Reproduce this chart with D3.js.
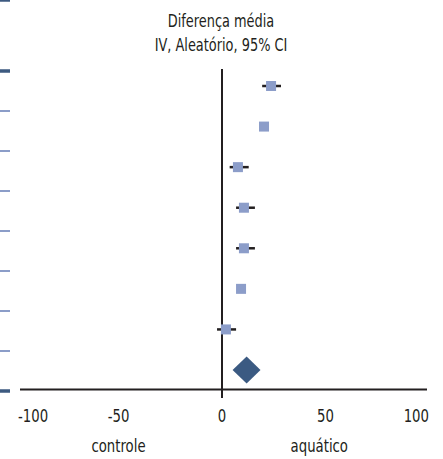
<!DOCTYPE html>
<html>
<head>
<meta charset="utf-8">
<script src="https://cdn.jsdelivr.net/npm/d3@7"></script>
<style>
  body { margin: 0; background: #fff; }
  text { font-family: "DejaVu Sans Condensed", "DejaVu Sans", sans-serif; fill: #231f20; }
</style>
</head>
<body>
<div id="vis"></div>
<script>
// study estimates (mean difference, 95% CI)
let meanDiff = [23.7, 20.3, 7.7, 10.6, 10.6, 9.2, 1.9]
let ciLow    = [19.4, 18.6, 3.7, 6.8, 6.8, 7.9, -2.4]
let ciHigh   = [28.5, 22.0, 12.9, 15.9, 15.9, 10.5, 6.8]
// pooled estimate
let pooled = [11.9, 5.1, 18.6]  // est, low, high
let xTicks = [-100, -50, 0, 50, 100]
let sideLabels = [[-50, 'controle'], [47, 'aquático']]
let titleLines = ['Diferença média', 'IV, Aleatório, 95% CI']
let rowEdges = d3.range(0, 9)   // table row separators on the left
let heavyEdges = [0, 8]

let width = 443, height = 459
let squeeze = 0.82  // condensed look of the original font

let svg = d3.select('#vis')
  .append('svg')
  .attr('width', width)
  .attr('height', height)

let x = d3.scaleLinear().domain([-100, 100]).range([15, 429])
let y = d3.scalePoint().domain(d3.range(0, 8)).range([86, 370])
let yEdge = d3.scaleLinear().domain([0, 8]).range([71, 391])

let axisY = 389.5

function place(px, py) {
  return 'translate(' + px + ',' + py + ') scale(' + squeeze + ',1)'
}

// left row separators (left over from the table)
svg.append('line')
  .attr('x1', 0).attr('x2', 10)
  .attr('y1', 0).attr('y2', 0)
  .attr('stroke', '#3d5a80').attr('stroke-width', 3.5)

svg.selectAll('.edge')
  .data(rowEdges)
  .enter().append('line')
  .attr('class', 'edge')
  .attr('x1', 0).attr('x2', 10)
  .attr('y1', d => yEdge(d)).attr('y2', d => yEdge(d))
  .attr('stroke', d => heavyEdges.includes(d) ? '#3d5a80' : '#8b9dc8')
  .attr('stroke-width', d => heavyEdges.includes(d) ? 3.5 : 2)

// title
svg.selectAll('.title')
  .data(titleLines)
  .enter().append('text')
  .attr('class', 'title')
  .attr('transform', (d, i) => place(x(0) - 1, 27 + i * 24))
  .attr('text-anchor', 'middle')
  .style('font-size', '17.5px')
  .text(d => d)

// x axis line
svg.append('line')
  .attr('x1', 20).attr('x2', 427)
  .attr('y1', axisY).attr('y2', axisY)
  .attr('stroke', '#231f20').attr('stroke-width', 2)

// line of no effect
svg.append('line')
  .attr('x1', x(0)).attr('x2', x(0))
  .attr('y1', 69).attr('y2', 398)
  .attr('stroke', '#231f20').attr('stroke-width', 2)

svg.selectAll('.tick')
  .data(xTicks)
  .enter().append('text')
  .attr('class', 'tick')
  .attr('transform', (d, i) => place(x(d) + (i == 0 ? 3 : 0), 422))
  .attr('text-anchor', (d, i) => i == 0 ? 'start' : (i == xTicks.length - 1 ? 'end' : 'middle'))
  .style('font-size', '18px')
  .text(d => d)

svg.selectAll('.side')
  .data(sideLabels)
  .enter().append('text')
  .attr('class', 'side')
  .attr('transform', d => place(x(d[0]), 452))
  .attr('text-anchor', 'middle')
  .style('font-size', '18px')
  .text(d => d[1])

// confidence intervals
svg.selectAll('.ci')
  .data(meanDiff)
  .enter().append('line')
  .attr('class', 'ci')
  .attr('x1', (d, i) => x(ciLow[i]))
  .attr('x2', (d, i) => x(ciHigh[i]))
  .attr('y1', (d, i) => y(i))
  .attr('y2', (d, i) => y(i))
  .attr('stroke', '#231f20')
  .attr('stroke-width', 2.5)

// study squares
let sq = 10
svg.selectAll('.pt')
  .data(meanDiff)
  .enter().append('rect')
  .attr('class', 'pt')
  .attr('x', d => x(d) - sq / 2)
  .attr('y', (d, i) => y(i) - sq / 2)
  .attr('width', sq)
  .attr('height', sq)
  .attr('fill', '#8c9dc9')

// pooled diamond
let dy = y(7), dh = 13.5
svg.append('path')
  .attr('d', 'M' + x(pooled[1]) + ',' + dy +
             'L' + x(pooled[0]) + ',' + (dy - dh) +
             'L' + x(pooled[2]) + ',' + dy +
             'L' + x(pooled[0]) + ',' + (dy + dh) + 'Z')
  .attr('fill', '#3b5a82')
</script>
</body>
</html>
